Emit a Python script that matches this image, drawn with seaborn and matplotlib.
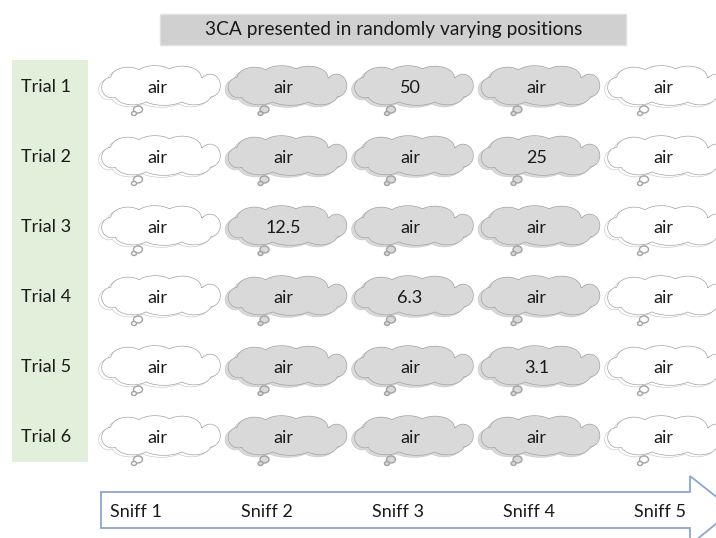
import numpy as np
import matplotlib.pyplot as plt
import seaborn as sns
from matplotlib.patches import Ellipse, Rectangle, Polygon

# ---- data ----
title = "3CA presented in randomly varying positions"
trials = ["Trial 1", "Trial 2", "Trial 3", "Trial 4", "Trial 5", "Trial 6"]
sniffs = ["Sniff 1", "Sniff 2", "Sniff 3", "Sniff 4", "Sniff 5"]
cells = [
    ["air", "air", "50", "air", "air"],
    ["air", "air", "air", "25", "air"],
    ["air", "12.5", "air", "air", "air"],
    ["air", "air", "6.3", "air", "air"],
    ["air", "air", "air", "3.1", "air"],
    ["air", "air", "air", "air", "air"],
]
shaded_cols = [False, True, True, True, False]

sns.set_theme(style="white")
plt.rcParams['font.family'] = ['Lato', 'DejaVu Sans']

W, H = 716, 538
fig = plt.figure(figsize=(W / 100, H / 100), dpi=100)
ax = fig.add_axes([0, 0, 1, 1])
ax.set_xlim(0, W)
ax.set_ylim(H, 0)
ax.axis('off')

edge = "#a3a3a3"
gray = "#d9d9d9"

# cloud lobes relative to cloud center: dx, dy, width, height
lobes = [(-49, 2, 20, 20), (-33, -7, 34, 22), (-6, -9, 40, 21), (21, -8, 38, 22),
         (49, 0, 20, 22), (33, 9, 34, 20), (3, 10, 46, 19), (-28, 9, 36, 20),
         (0, 0, 100, 26)]


def cloud(cx, cy, fill, z):
    # faint shadow copy, then the main outline
    for off, ec in [((-3, 2), "#cdcdcd"), ((0, 0), edge)]:
        for dx, dy, w, h in lobes:
            ax.add_patch(Ellipse((cx + dx + off[0], cy + dy + off[1]), w, h,
                                 fc="none", ec=ec, lw=1.0, zorder=z))
        for dx, dy, w, h in lobes:
            ax.add_patch(Ellipse((cx + dx + off[0], cy + dy + off[1]), w, h,
                                 fc=fill, ec="none", zorder=z + 0.1))
        z += 0.2
    # little tail bubbles
    ax.add_patch(Ellipse((cx - 23, cy + 24), 9, 7, fc=fill, ec=edge, lw=1.0, zorder=z + 0.4))
    ax.add_patch(Ellipse((cx - 27, cy + 28), 5, 4, fc=fill, ec=edge, lw=1.0, zorder=z + 0.4))


# title box
ax.add_patch(Rectangle((160, 14), 466, 31, fc="#d0d0d0", ec="#e0e0e0", lw=1, zorder=1))
ax.text(394, 30, title, ha="center", va="center", fontsize=13.8, color="#1a1a1a", zorder=2)

# trial column
ax.add_patch(Rectangle((12, 60), 76, 402, fc="#e2efda", ec="none", zorder=1))

x0, dxs = 157, 126.5
y0, dys = 88, 70
for j, tr in enumerate(trials):
    y = y0 + j * dys
    ax.text(46, y - 1, tr, ha="center", va="center", fontsize=13, color="#1a1a1a", zorder=2)
    for i, val in enumerate(cells[j]):
        x = x0 + i * dxs
        cloud(x + 4, y - 2.5, gray if shaded_cols[i] else "white", 3 + i)
        ax.text(x, y, val, ha="center", va="center", fontsize=13, color="#1a1a1a", zorder=20)

# sniff arrow
arrow = Polygon([(101, 492), (690, 492), (690, 476), (733, 510), (690, 545),
                 (690, 528), (101, 528)], closed=True, fc="white", ec="#8aa7cf", lw=1.3, zorder=2)
ax.add_patch(arrow)
for i, sn in enumerate(sniffs):
    ax.text(136 + i * 131, 512, sn, ha="center", va="center", fontsize=13, color="#1a1a1a", zorder=3)

fig.savefig("out.png", dpi=100)
